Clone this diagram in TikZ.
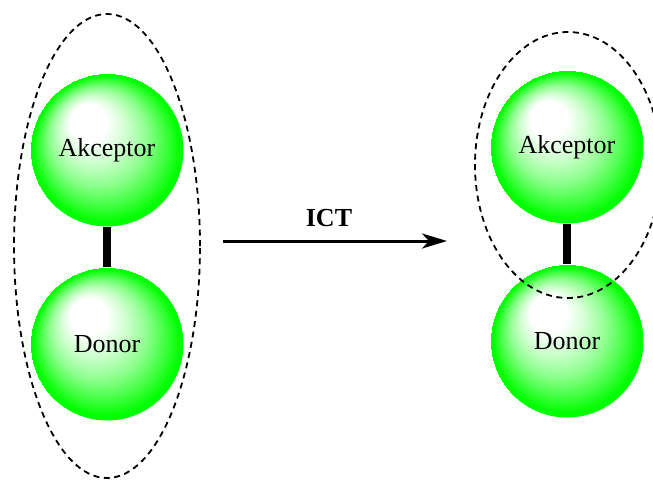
\documentclass[tikz,border=0pt]{standalone}
\usepackage{fontspec}
\setmainfont{Liberation Serif}
\usetikzlibrary{shapes.geometric,arrows.meta}
\pgfdeclareradialshading{greenball}{\pgfpoint{-16bp}{24bp}}{%
  color(0bp)=(white);
  color(12bp)=(white);
  color(22bp)=(green!20!white);
  color(32bp)=(green!45!white);
  color(41bp)=(green!75!white);
  color(48bp)=(green);
  color(50bp)=(green)}
\begin{document}
\begin{tikzpicture}[x=1pt,y=-1pt,
  ballnode/.style={circle,minimum size=153pt,inner sep=0pt,shading=greenball,
    font=\fontsize{26}{30}\selectfont},
  stick/.style={line width=8pt},
  ring/.style={ellipse,draw,line width=1.8pt,dash pattern=on 6pt off 4.5pt,inner sep=0pt},
  flow/.style={line width=3pt,-{Stealth[length=25pt,width=15pt,inset=7pt]}}]
\pgfsetadditionalshadetransform{\pgftransformscale{0.5}}
\useasboundingbox (0,0) rectangle (653,480);
% left molecule
\node[ballnode] (akl) at (107,150) {Akceptor};
\node[ballnode] (dol) at (107,344) {Donor};
\draw[stick] (akl.south) -- (dol.north);
\node[ring,minimum width=186pt,minimum height=464pt] (el) at (107,246) {};
% arrow
\coordinate (as) at (223,241);
\coordinate (ae) at (447,241);
\draw[flow] (as) -- (ae);
\node[font=\bfseries\fontsize{26}{30}\selectfont] (ict) at (329,218) {ICT};
% right molecule
\node[ballnode] (akr) at (567,147) {Akceptor};
\node[ballnode] (dor) at (567,341) {Donor};
\draw[stick] (akr.south) -- (dor.north);
\node[ring,minimum width=186pt,minimum height=266pt] (er) at (568,165) {};
\end{tikzpicture}
\end{document}
